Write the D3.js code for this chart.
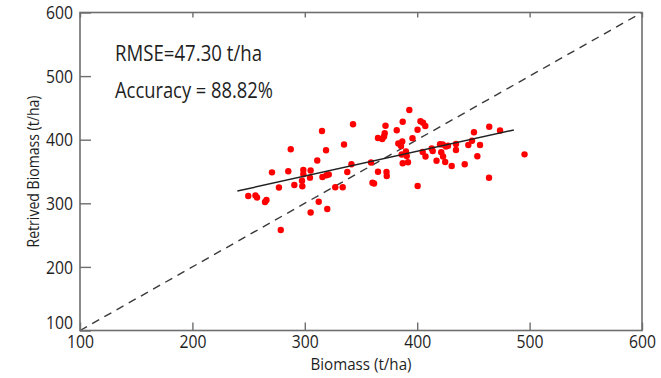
<!DOCTYPE html>
<html>
<head>
<meta charset="utf-8">
<script src="https://cdn.jsdelivr.net/npm/d3@7"></script>
<style>
  html, body { margin: 0; padding: 0; background: #fff; }
  svg { display: block; }
  text { font-family: "Open Sans", "Noto Sans", sans-serif; fill: #1e1e1e; }
</style>
</head>
<body>
<svg id="chart" width="661" height="378"></svg>
<script>
// Measured biomass (t/ha) for each sample plot
const measured = [
  249.7, 256.1, 257.5, 264.6, 265.9, 270.8, 277.0, 278.6, 285.3, 287.5,
  290.7, 297.5, 297.8, 298.7, 298.7, 305.2, 304.6, 305.2, 311.1, 312.4,
  315.3, 315.7, 319.3, 321.3, 318.9, 320.0, 327.1, 333.7, 334.9, 337.8,
  341.5, 342.9, 358.9, 360.2, 361.6, 365.1, 372.7, 372.9, 365.1, 368.9,
  370.5, 371.1, 371.8, 381.8, 383.2, 385.6, 386.7, 386.2, 390.0, 390.7,
  387.1, 391.8, 387.1, 393.0, 395.8, 400.3, 402.9, 405.2, 407.2, 400.4,
  404.9, 407.4, 412.9, 413.8, 417.2, 420.3, 422.7, 425.6, 427.4, 421.4,
  423.0, 424.9, 430.7, 434.5, 434.5, 442.3, 445.5, 448.8, 450.5, 453.5,
  455.9, 464.1, 463.9, 473.7, 495.5
];
// Retrieved biomass (t/ha) for the same plots
const retrieved = [
  311.5, 312.3, 309.1, 302.0, 305.2, 348.7, 324.8, 258.0, 350.3, 384.9,
  328.8, 335.5, 326.7, 352.4, 345.6, 351.6, 340.3, 285.5, 367.3, 302.5,
  413.7, 341.4, 344.2, 345.3, 383.3, 291.0, 325.2, 325.2, 392.5, 349.2,
  361.5, 424.2, 364.2, 332.4, 331.1, 349.7, 349.2, 342.9, 402.7, 401.1,
  405.0, 410.1, 422.0, 414.8, 394.0, 390.1, 397.2, 376.7, 381.4, 374.4,
  362.9, 364.5, 428.3, 446.7, 402.4, 415.7, 428.9, 426.6, 421.6, 327.2,
  380.7, 373.6, 386.2, 382.2, 367.0, 392.9, 392.5, 389.3, 390.4, 380.2,
  373.6, 364.9, 358.6, 393.2, 383.8, 361.5, 391.7, 398.4, 411.6, 373.9,
  391.7, 420.3, 340.1, 414.5, 377.0
];
// Fitted regression line end points
const fitX = [240, 486];
const fitY = [319.3, 415.3];
// 1:1 reference line
const oneToOne = [100, 600];

const xTicks = [100, 200, 300, 400, 500, 600];
const yTicks = [100, 200, 300, 400, 500, 600];
const statLines = ["RMSE=47.30 t/ha", "Accuracy = 88.82%"];
const xTitle = "Biomass (t/ha)";
const yTitle = "Retrived Biomass (t/ha)";

const svg = d3.select("#chart");
const plot = { left: 80, right: 642, top: 12.5, bottom: 330.5 };

const x = d3.scaleLinear().domain([100, 600]).range([plot.left, plot.right]);
const y = d3.scaleLinear().domain([100, 600]).range([plot.bottom, plot.top]);

const axisColor = "#6e6e6e";

// 1:1 dashed line
svg.append("line")
  .attr("x1", x(oneToOne[0])).attr("y1", y(oneToOne[0]))
  .attr("x2", x(oneToOne[1])).attr("y2", y(oneToOne[1]))
  .attr("stroke", "#3a3a3a").attr("stroke-width", 1.4)
  .attr("stroke-dasharray", "8,6");

// Sample points
svg.append("g").selectAll("circle")
  .data(measured.map((m, i) => [m, retrieved[i]]))
  .join("circle")
  .attr("cx", d => x(d[0]))
  .attr("cy", d => y(d[1]))
  .attr("r", 3.2)
  .attr("fill", "#ff0000");

// Regression line
svg.append("line")
  .attr("x1", x(fitX[0])).attr("y1", y(fitY[0]))
  .attr("x2", x(fitX[1])).attr("y2", y(fitY[1]))
  .attr("stroke", "#222").attr("stroke-width", 1.5);

// Axes: bottom and left with labels, top with inward ticks only
const bottomAxis = d3.axisBottom(x).tickValues(xTicks).tickSize(-8).tickPadding(5).tickFormat(d3.format("d"));
const leftAxis = d3.axisLeft(y).tickValues(yTicks).tickSize(-11).tickPadding(7).tickFormat(d3.format("d"));
const topAxis = d3.axisTop(x).tickValues(xTicks).tickSize(-5).tickFormat("");

function styleAxis(g) {
  g.select(".domain").remove();
  g.selectAll(".tick line").attr("stroke", axisColor).attr("stroke-width", 1.4);
  g.selectAll(".tick text")
    .attr("fill", "#1e1e1e")
    .style("font-family", "'Open Sans', sans-serif")
    .style("font-size", "18px")
    .attr("textLength", 27)
    .attr("lengthAdjust", "spacingAndGlyphs");
}

svg.append("g").attr("transform", `translate(0,${plot.bottom})`).call(bottomAxis).call(styleAxis);
const gl = svg.append("g").attr("transform", `translate(${plot.left},0)`).call(leftAxis).call(styleAxis);
// the lowest label sits just above the corner so it clears the x-axis "100"
gl.selectAll(".tick text").attr("dy", d => d === 100 ? "-0.12em" : "0.34em");
svg.append("g").attr("transform", `translate(0,${plot.top})`).call(topAxis).call(styleAxis);

// Plot frame
svg.append("rect")
  .attr("x", plot.left).attr("y", plot.top)
  .attr("width", plot.right - plot.left).attr("height", plot.bottom - plot.top)
  .attr("fill", "none").attr("stroke", axisColor).attr("stroke-width", 1.6);

// Statistics
svg.append("text").attr("x", 115).attr("y", 61)
  .style("font-size", "21px")
  .attr("textLength", 147).attr("lengthAdjust", "spacingAndGlyphs")
  .text(statLines[0]);
svg.append("text").attr("x", 115).attr("y", 98)
  .style("font-size", "21px")
  .attr("textLength", 158).attr("lengthAdjust", "spacingAndGlyphs")
  .text(statLines[1]);

// Axis titles
svg.append("text")
  .attr("x", (plot.left + plot.right) / 2).attr("y", 370)
  .attr("text-anchor", "middle")
  .style("font-size", "17px")
  .attr("textLength", 101).attr("lengthAdjust", "spacingAndGlyphs")
  .text(xTitle);
svg.append("text")
  .attr("transform", `translate(39,${(plot.top + plot.bottom) / 2}) rotate(-90)`)
  .attr("text-anchor", "middle")
  .style("font-size", "17px")
  .attr("textLength", 152).attr("lengthAdjust", "spacingAndGlyphs")
  .text(yTitle);
</script>
</body>
</html>
